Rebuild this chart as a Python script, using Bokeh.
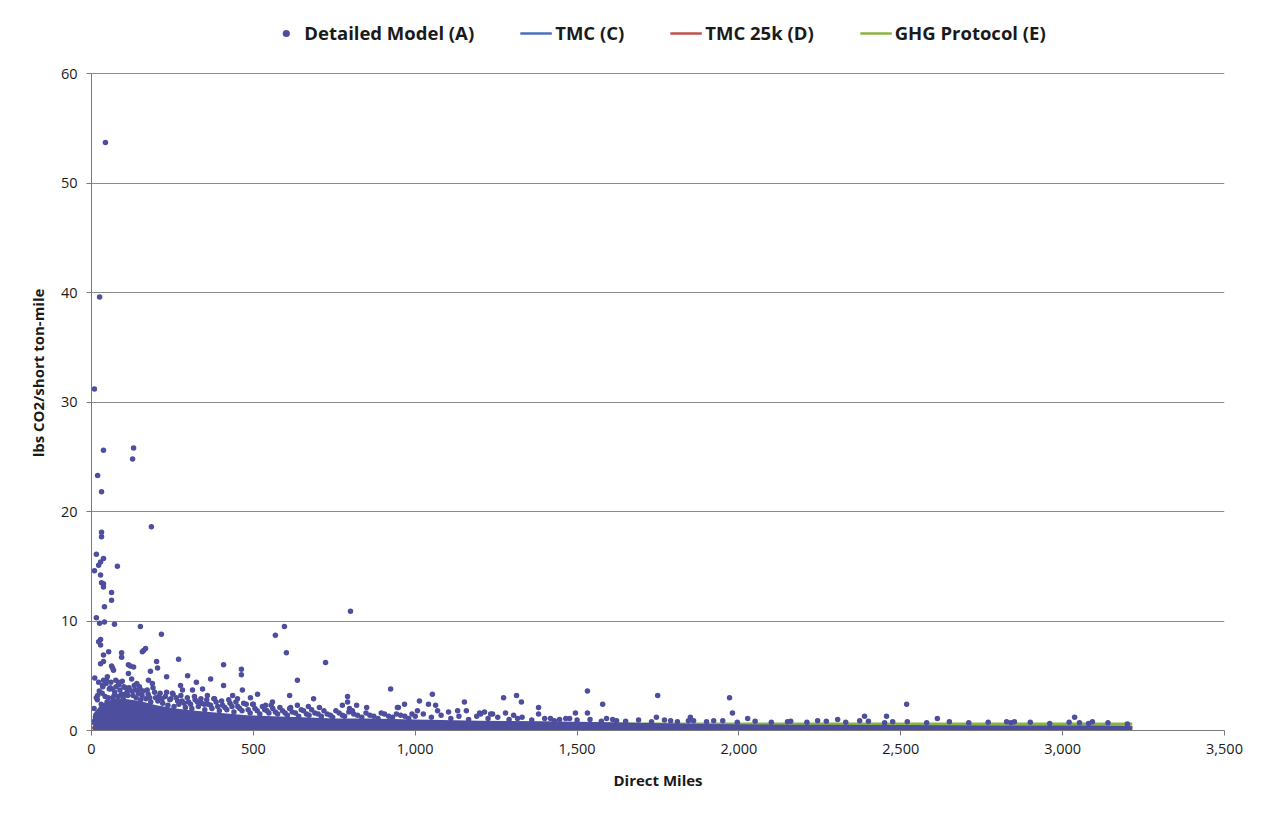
from bokeh.plotting import figure
from bokeh.models import (Range1d, FixedTicker, NumeralTickFormatter, Legend,
                          LegendItem)
from bokeh.embed import file_html
from bokeh.resources import INLINE

# ---- Detailed Model (A): individual shipments ----
det_x = [43, 25, 9, 37, 130, 127, 19, 31, 185, 31, 31, 15, 37, 28, 22, 80, 9, 28, 31, 37, 37,
         62, 62, 40, 15, 40, 25, 71, 151, 216, 800, 596, 568, 602, 723, 636, 924, 269, 232, 297,
         408, 463, 463, 408, 612, 686, 791, 1053, 1013, 1152, 559, 513, 466, 368, 324, 161, 157,
         93, 93, 53, 201, 204, 182, 120, 130, 62, 68, 28, 37, 34, 19, 22,
         28, 22, 28, 37, 167, 114, 65, 114, 124, 49, 37, 83, 188, 176, 250, 275, 281, 312, 343,
         358, 380, 436, 451,
         491, 500, 850, 945, 775, 791, 797, 806, 819, 704, 670, 636, 615, 538,
         1273, 1313, 1328, 1381, 1381, 1279, 967, 948, 1041, 1063, 1069, 1007, 1103, 1131, 1158,
         1202, 1214, 1239,
         1532, 1579, 1532, 1495, 1591, 1749, 1745, 1971, 1980, 2027, 1850, 1844, 2305, 2373, 2388,
         1199, 1233, 1304, 1316, 1418, 1446, 1477, 1622, 1789, 1922, 2150, 2243,
         2518, 2456, 2475, 2613, 2827, 2851, 3037, 3052, 3092,
         10, 45, 58, 75, 88, 100, 140, 150, 110, 70]
det_y = [53.7, 39.6, 31.2, 25.6, 25.8, 24.8, 23.3, 21.8, 18.6, 18.1, 17.7, 16.1, 15.7, 15.4, 15.1,
         15.0, 14.6, 14.2, 13.5, 13.4, 13.1,
         12.6, 11.9, 11.3, 10.3, 9.9, 9.8, 9.7, 9.5, 8.8, 10.9, 9.5, 8.7, 7.1, 6.2, 4.6, 3.8, 6.5,
         4.9, 5.0, 6.0, 5.6, 5.1, 4.1, 3.2, 2.9, 3.1, 3.3, 2.7, 2.6, 2.6, 3.3, 3.7, 4.7, 4.4, 7.3,
         7.2, 7.1, 6.7, 7.2, 6.3, 5.7, 5.4, 5.9, 5.8, 5.9, 5.5, 6.1, 6.3, 4.1, 3.2, 1.6,
         8.3, 8.1, 7.8, 6.9, 7.5, 6.0, 5.7, 5.2, 4.7, 4.9, 4.6, 4.4, 4.3, 4.6, 3.4, 4.1, 3.7, 3.7,
         3.8, 3.2, 2.9, 3.2, 2.9,
         3.0, 2.4, 2.1, 2.1, 2.3, 2.6, 2.0, 1.8, 2.3, 2.1, 2.2, 2.3, 2.1, 2.3,
         3.0, 3.2, 2.6, 2.1, 1.5, 1.6, 2.4, 2.1, 2.4, 2.3, 1.8, 1.8, 1.7, 1.8, 1.8,
         1.5, 1.7, 1.5,
         3.6, 2.4, 1.6, 1.6, 1.1, 3.2, 1.2, 3.0, 1.6, 1.1, 1.2, 0.9, 1.0, 0.9, 1.3,
         1.6, 1.5, 1.4, 1.1, 1.1, 1.0, 1.1, 0.9, 0.9, 0.9, 0.8, 0.9,
         2.4, 1.3, 0.8, 1.1, 0.8, 0.8, 1.2, 0.7, 0.8,
         4.8, 4.3, 3.9, 4.6, 3.7, 4.0, 4.3, 3.8, 3.5, 3.2]

# upper fringe of the dense cloud
fr_x = [5, 8, 12, 18, 24, 30, 35, 42, 48, 55, 60, 66, 72, 78, 85, 92, 98, 105, 112, 118, 125,
        132, 138, 145, 152, 160, 168, 175, 183, 190, 198, 205, 212, 220, 228, 236, 245, 255, 262,
        270, 280, 290, 300, 310, 320, 330, 340, 350, 360, 372, 385, 395, 405, 418, 428, 440, 452,
        465, 478, 490, 505, 520, 535, 548, 560, 575, 590, 605, 620, 640, 655, 672, 690, 710, 728,
        745, 765, 782, 810, 835, 860, 885, 905, 930, 955, 980, 1000, 1025, 1050, 1080, 1110, 1135,
        1165, 1190, 1225, 1255, 1290, 1330, 1360, 1400, 1430, 1465, 1500, 1540, 1575, 1610, 1650,
        1690, 1730, 1770, 1810, 1860, 1900, 1950, 1995, 2050, 2100, 2160, 2210, 2270, 2330, 2400,
        2450, 2520, 2580, 2650, 2710, 2770, 2840, 2900, 2960, 3020, 3080, 3140, 3200]
fr_y = [0.8, 2.0, 1.2, 2.8, 3.6, 2.4, 4.0, 3.1, 2.6, 3.8, 4.4, 3.0, 3.5, 2.7, 4.2, 3.3, 2.9, 3.9,
        3.2, 2.5, 3.6, 4.1, 3.0, 3.4, 2.8, 3.6, 2.9, 3.3, 2.6, 3.9, 3.0, 2.7, 3.4, 2.5, 3.1, 2.3,
        2.9, 2.2, 3.0, 2.4, 2.7, 2.1, 2.6, 2.0, 2.8, 2.2, 2.5, 1.9, 2.4, 2.0, 2.6, 1.8, 2.3, 1.9,
        2.5, 1.7, 2.2, 1.8, 2.4, 1.6, 2.0, 1.5, 1.9, 1.6, 2.0, 1.5, 1.8, 1.4, 1.7, 1.3, 1.8, 1.4,
        1.6, 1.3, 1.5, 1.2, 1.6, 1.3, 1.5, 1.2, 1.4, 1.1, 1.5, 1.2, 1.4, 1.1, 1.3, 1.5, 1.2, 1.4,
        1.1, 1.3, 1.0, 1.3, 1.1, 1.2, 1.0, 1.2, 0.95, 1.1, 0.9, 1.1, 0.95, 1.0, 0.85, 1.0, 0.85,
        0.95, 0.8, 0.95, 0.8, 0.9, 0.8, 0.9, 0.75, 0.85, 0.75, 0.85, 0.75, 0.85, 0.75, 0.85, 0.7,
        0.8, 0.7, 0.8, 0.7, 0.75, 0.7, 0.75, 0.65, 0.75, 0.65, 0.7, 0.6]

# second fringe layer (short hauls)
fr2_x = [15, 22, 33, 46, 52, 64, 76, 83, 95, 103, 116, 128, 136, 148, 156, 172, 180, 195, 208,
         218, 232, 242, 252, 266, 276, 286, 296, 306, 318, 327, 338, 348, 356, 368, 378, 390, 402,
         412, 424, 434, 446, 458, 470, 484, 498, 512, 528, 542, 555, 568, 582, 598, 612, 630, 648,
         664, 680, 700, 718, 738, 755, 775, 795, 822, 848, 872, 895, 918, 942, 968, 990]
fr2_y = [3.0, 4.4, 3.4, 4.6, 3.0, 3.8, 4.0, 3.1, 4.5, 3.3, 3.9, 3.2, 3.7, 4.0, 3.2, 3.7, 3.0, 3.5,
         3.1, 2.9, 3.5, 2.8, 3.3, 2.7, 3.2, 2.5, 3.0, 2.4, 3.1, 2.6, 2.9, 2.4, 2.8, 2.3, 2.9, 2.2,
         2.7, 2.1, 2.8, 2.2, 2.6, 2.0, 2.5, 1.9, 2.4, 1.8, 2.2, 1.8, 2.3, 1.7, 2.1, 1.6, 2.0, 1.6,
         1.9, 1.5, 1.9, 1.5, 1.8, 1.4, 1.8, 1.4, 1.7, 1.4, 1.6, 1.3, 1.6, 1.3, 1.5, 1.3, 1.5]

# envelope of the solid core of the cloud
core_x = [5, 30, 60, 100, 150, 200, 260, 320, 400, 480, 560, 650, 750, 850, 1000, 1200, 1400,
          1600, 1900, 2200, 2500, 2800, 3100, 3215]
core_top = [1.5, 2.4, 2.8, 2.9, 2.7, 2.3, 2.0, 1.8, 1.6, 1.4, 1.3, 1.2, 1.1, 1.1, 1.0, 0.9, 0.85,
            0.75, 0.6, 0.52, 0.5, 0.48, 0.48, 0.45]
core_bot = [0.05] * len(core_x)

# ---- benchmark lines ----
line_x = [0, 3215]
tmc_c = [0.2, 0.2]
tmc_25k = [0.28, 0.28]
ghg = [0.62, 0.62]

x_ticks = [0, 500, 1000, 1500, 2000, 2500, 3000, 3500]
y_ticks = [0, 10, 20, 30, 40, 50, 60]

PT = "#4E4E9E"
FONT = "Open Sans"

# frame is extended above 60 to hold the legend strip (axis line stops at 60)
p = figure(frame_width=1133, frame_height=715, output_backend="svg", toolbar_location=None,
           x_range=Range1d(0, 3500), y_range=Range1d(0, 65.3),
           min_border_left=91, min_border_right=40, min_border_top=15, min_border_bottom=80)
p.outline_line_color = None
p.background_fill_color = "white"
p.border_fill_color = "white"

lc = p.line(line_x, tmc_c, line_color="#4A6FC0", line_width=2.5)
ld = p.line(line_x, tmc_25k, line_color="#C0504D", line_width=2.5)
le = p.line(line_x, ghg, line_color="#8DB443", line_width=2.5)

p.varea(x=core_x, y1=core_bot, y2=core_top, fill_color=PT)
p.scatter(fr_x, fr_y, size=5.5, fill_color=PT, line_color=None)
p.scatter(fr2_x, fr2_y, size=5.5, fill_color=PT, line_color=None)
sc = p.scatter(det_x, det_y, size=5.5, fill_color=PT, line_color=None)

p.xgrid.grid_line_color = None
p.ygrid.grid_line_color = "#8C8C8C"
p.ygrid.grid_line_width = 1
p.ygrid.ticker = FixedTicker(ticks=y_ticks)

p.xaxis.ticker = FixedTicker(ticks=x_ticks)
p.yaxis.ticker = FixedTicker(ticks=y_ticks)
p.yaxis.bounds = (0, 60)
p.xaxis.formatter = NumeralTickFormatter(format="0,0")
for ax in (p.xaxis, p.yaxis):
    ax.axis_line_color = "#7A7A7A"
    ax.major_tick_line_color = "#7A7A7A"
    ax.major_tick_out = 5
    ax.major_tick_in = 0
    ax.minor_tick_line_color = None
    ax.major_label_text_font = FONT
    ax.major_label_text_font_size = "14.5px"
    ax.major_label_text_color = "#1A1A1A"
    ax.axis_label_text_font = FONT
    ax.axis_label_text_font_size = "15px"
    ax.axis_label_text_font_style = "bold"
    ax.axis_label_text_color = "#1A1A1A"
p.xaxis.axis_label = "Direct Miles"
p.yaxis.axis_label = "lbs CO2/short ton-mile"
p.xaxis.major_label_standoff = 8
p.yaxis.major_label_standoff = 9
p.xaxis.axis_label_standoff = 13
p.yaxis.axis_label_standoff = 10

legend = Legend(items=[LegendItem(label="Detailed Model (A)", renderers=[sc]),
                       LegendItem(label="TMC (C)", renderers=[lc]),
                       LegendItem(label="TMC 25k (D)", renderers=[ld]),
                       LegendItem(label="GHG Protocol (E)", renderers=[le])],
                orientation="horizontal", location="top_center")
legend.label_text_font = FONT
legend.label_text_font_size = "18.5px"
legend.label_text_font_style = "bold"
legend.label_text_color = "#1A1A1A"
legend.glyph_width = 32
legend.glyph_height = 18
legend.label_standoff = 3
legend.spacing = 46
legend.padding = 4
legend.margin = 5
legend.border_line_color = None
legend.background_fill_alpha = 0
p.add_layout(legend, "center")

open("out.html", "w").write(file_html(p, INLINE))
